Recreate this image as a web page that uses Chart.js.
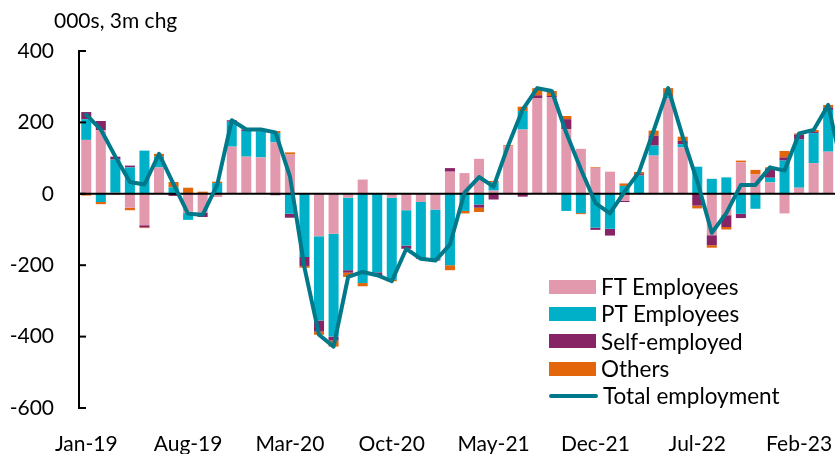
<!DOCTYPE html>
<html>
<head>
<meta charset="utf-8">
<script src="https://cdn.jsdelivr.net/npm/chart.js@4.4.1/dist/chart.umd.min.js"></script>
<style>
  html, body { margin: 0; padding: 0; background: #fff; overflow: hidden; }
  #wrap { position: relative; width: 835px; height: 454px; overflow: hidden; font-family: Lato, sans-serif; color: #000; }
  #box { position: absolute; left: 0; top: 0; width: 900px; height: 454px; }
  #unit { position: absolute; left: 54px; top: 7px; font-size: 21px; white-space: nowrap; }
  #legend { position: absolute; left: 549px; top: 273px; font-size: 22.5px; }
  .row { display: flex; align-items: center; height: 27.3px; white-space: nowrap; }
  .sw { width: 47px; height: 14px; margin-right: 5px; flex: none; }
  .ln { width: 49px; height: 4px; border-radius: 2px; margin-right: 5px; flex: none; }
</style>
</head>
<body>
<div id="wrap">
  <div id="box"><canvas id="chart" width="900" height="454"></canvas></div>
  <div id="unit">000s, 3m chg</div>
  <div id="legend"></div>
</div>
<script>
const months = [
  'Jan-19', 'Feb-19', 'Mar-19', 'Apr-19', 'May-19', 'Jun-19', 'Jul-19', 'Aug-19', 'Sep-19', 'Oct-19', 'Nov-19', 'Dec-19',
  'Jan-20', 'Feb-20', 'Mar-20', 'Apr-20', 'May-20', 'Jun-20', 'Jul-20', 'Aug-20', 'Sep-20', 'Oct-20', 'Nov-20', 'Dec-20',
  'Jan-21', 'Feb-21', 'Mar-21', 'Apr-21', 'May-21', 'Jun-21', 'Jul-21', 'Aug-21', 'Sep-21', 'Oct-21', 'Nov-21', 'Dec-21',
  'Jan-22', 'Feb-22', 'Mar-22', 'Apr-22', 'May-22', 'Jun-22', 'Jul-22', 'Aug-22', 'Sep-22', 'Oct-22', 'Nov-22', 'Dec-22',
  'Jan-23', 'Feb-23', 'Mar-23', 'Apr-23', 'May-23'
];

const ftEmployees = [
  151, 178, 3, -39, -88, 74, 0, -54, -53, -9, 132, 104,
  102, 144, 110, 0, -119, -112, -11, 40, 0, -11, -46, -23,
  -44, 62, 58, 98, 9, 133, 180, 268, 271, 181, 126, 73,
  62, -20, 0, 107, 267, 130, 0, -116, -60, 88, 54, 32,
  -55, 17, 86, 118, 40
];
const ptEmployees = [
  58, -23, 93, 74, 121, 30, 18, -19, 0, 30, 70, 72,
  73, 26, -56, -177, -236, -288, -203, -250, -220, -230, -99, -157,
  -141, -200, -48, -30, 23, 0, 52, 0, 0, -48, -54, -95,
  -98, 22, 51, 28, 6, 9, 76, 42, 46, -56, -42, 13,
  93, 135, 84, 117, 20
];
const selfEmployed = [
  20, 26, 8, 5, -6, 0, -6, 0, -12, 0, 4, 4,
  5, -4, -11, -25, -31, -11, -7, 0, -8, 0, -9, -2,
  -2, 10, 0, -9, -16, -1, -8, 8, 3, 28, 0, -6,
  -19, -3, 4, 28, 3, 9, -33, -28, -33, -12, 0, 25,
  9, 14, 3, 7, 3
];
const others = [
  -5, -6, -2, -7, -2, 8, 15, 17, 6, 4, 0, 0,
  0, 6, 6, -5, -9, -17, -12, -9, 0, -4, 0, 0,
  0, -14, -7, -12, 4, 3, 12, 20, 14, 9, -3, 2,
  0, 7, 6, 14, 20, 12, -8, -7, -7, 5, 13, 4,
  18, 3, 6, 7, 2
];
const totalEmployment = [
  222, 180, 104, 33, 26, 112, 27, -56, -59, 25, 206, 180,
  180, 172, 49, -207, -395, -428, -233, -219, -228, -245, -154, -182,
  -187, -142, 3, 47, 20, 135, 236, 296, 288, 170, 69, -26,
  -55, 6, 61, 177, 296, 160, 35, -109, -54, 25, 25, 74,
  65, 169, 179, 249, 65
];

const yTicks = [-600, -400, -200, 0, 200, 400];

const colors = {
  ft: '#E399AD',
  pt: '#00B0C9',
  se: '#862465',
  oth: '#E3660B',
  total: '#00798A',
};

const font = { family: 'Lato', size: 21 };

// zero line + inside ticks, drawn above the bars but under the total line
const axisMarks = {
  id: 'axisMarks',
  beforeDatasetDraw(chart, args) {
    if (args.meta.type !== 'line') return;
    const { ctx, chartArea, scales: { y } } = chart;
    ctx.save();
    ctx.strokeStyle = '#000';
    ctx.lineWidth = 2;
    const zero = y.getPixelForValue(0);
    ctx.beginPath();
    ctx.moveTo(chartArea.left, zero);
    ctx.lineTo(chartArea.right, zero);
    ctx.stroke();
    yTicks.forEach((v) => {
      const py = y.getPixelForValue(v);
      ctx.beginPath();
      ctx.moveTo(chartArea.left, py);
      ctx.lineTo(chartArea.left + 7, py);
      ctx.stroke();
    });
    ctx.restore();
  },
};

function barSet(label, data, color) {
  return {
    type: 'bar',
    label,
    data,
    backgroundColor: color,
    stack: 'parts',
    order: 1,
    barPercentage: 0.69,
    categoryPercentage: 1,
  };
}

const chart = new Chart(document.getElementById('chart'), {
  data: {
    labels: months,
    datasets: [
      {
        type: 'line',
        label: 'Total employment',
        data: totalEmployment,
        borderColor: colors.total,
        backgroundColor: colors.total,
        borderWidth: 4,
        pointRadius: 0,
        tension: 0,
        borderJoinStyle: 'round',
        borderCapStyle: 'round',
        stack: 'total',
        order: 0,
      },
      barSet('FT Employees', ftEmployees, colors.ft),
      barSet('PT Employees', ptEmployees, colors.pt),
      barSet('Self-employed', selfEmployed, colors.se),
      barSet('Others', others, colors.oth),
    ],
  },
  options: {
    responsive: false,
    animation: false,
    layout: { padding: { top: 51, right: 50, left: 0, bottom: 0 } },
    plugins: {
      legend: { display: false },
      tooltip: { enabled: false },
    },
    scales: {
      x: {
        stacked: true,
        offset: true,
        grid: { display: false },
        border: { display: false },
        ticks: {
          autoSkip: false,
          maxRotation: 0,
          minRotation: 0,
          padding: 16,
          color: '#000',
          font,
          callback(value, index) {
            return index % 7 === 0 ? this.getLabelForValue(value) : '';
          },
        },
        afterFit(scale) { scale.height = 46; },
      },
      y: {
        stacked: true,
        min: -600,
        max: 400,
        afterBuildTicks(scale) { scale.ticks = yTicks.map((v) => ({ value: v })); },
        ticks: { padding: 25, color: '#000', font },
        grid: { display: false, drawTicks: false },
        border: { display: true, color: '#000', width: 2 },
        afterFit(scale) { scale.width = 79; },
      },
    },
  },
  plugins: [axisMarks],
});

// the reference is cut at the right edge: push the plot's right side to x=850
for (let k = 0; k < 3; k += 1) {
  const extra = chart.chartArea.right - 850;
  if (Math.abs(extra) < 0.5) break;
  chart.options.layout.padding.right += extra;
  chart.update();
}

// legend in the order of the reference
const legend = document.getElementById('legend');
const order = [1, 2, 3, 4, 0];
order.forEach((i) => {
  const ds = chart.data.datasets[i];
  const row = document.createElement('div');
  row.className = 'row';
  const mark = document.createElement('span');
  mark.className = ds.type === 'line' ? 'ln' : 'sw';
  mark.style.background = ds.type === 'line' ? ds.borderColor : ds.backgroundColor;
  const text = document.createElement('span');
  text.textContent = ds.label;
  row.appendChild(mark);
  row.appendChild(text);
  legend.appendChild(row);
});
</script>
</body>
</html>
